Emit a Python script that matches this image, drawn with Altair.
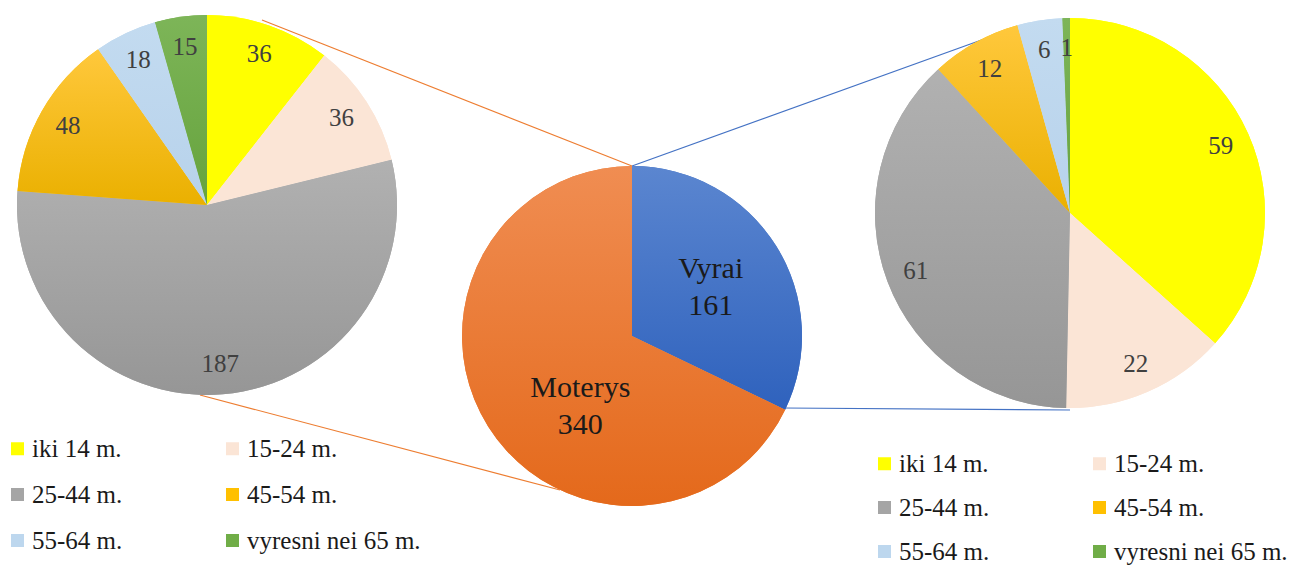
import altair as alt
import pandas as pd

categories = ["iki 14 m.", "15-24 m.", "25-44 m.", "45-54 m.", "55-64 m.", "vyresni nei 65 m."]
women = [36, 36, 187, 48, 18, 15]
men = [59, 22, 61, 12, 6, 1]
genders = ["Vyrai", "Moterys"]
gender_totals = [161, 340]

cat_colors = ["#FFFF00", "#FBE5D6", "#A5A5A5", "#FFC000", "#BDD7EE", "#70AD47"]
cat_top = ["#FFFF00", "#FBE5D6", "#B1B1B1", "#FFC83C", "#C3DBF0", "#7DB558"]
cat_bottom = ["#FFFF00", "#FBE5D6", "#969696", "#EAB000", "#B7D2EB", "#66A33D"]
gender_colors = ["#4472C4", "#ED7D31"]
gender_top = ["#5B86D0", "#F08D52"]
gender_bottom = ["#2F62BD", "#E4691B"]

FONT = "Liberation Serif"

df_w = pd.DataFrame({"cat": categories, "value": women, "idx": range(len(categories))})
df_m = pd.DataFrame({"cat": categories, "value": men, "idx": range(len(categories))})
df_g = pd.DataFrame({"gender": genders, "value": gender_totals, "idx": range(len(genders)),
                     "label": [f"{g}\n{v}" for g, v in zip(genders, gender_totals)]})


def gradient(top, bottom):
    return {
        "gradient": "linear", "x1": 0, "y1": 0, "x2": 0, "y2": 1,
        "stops": [
            {"offset": 0, "color": top},
            {"offset": 1, "color": bottom},
        ],
    }


def cum(chart):
    return chart.transform_window(
        cum="sum(value)", sort=[alt.SortField("idx")]
    ).transform_calculate(
        start="datum.cum - datum.value", mid="datum.cum - datum.value / 2"
    )


def outer_pie(df, cx, cy, r, lr, legend_x, legend_y, row_pad):
    color = alt.Color(
        "cat:N",
        scale=alt.Scale(domain=categories, range=cat_colors),
        sort=categories,
        legend=alt.Legend(
            title=None, orient="none", legendX=legend_x, legendY=legend_y,
            direction="horizontal",
            columns=2, columnPadding=97, rowPadding=row_pad, symbolType="square",
            symbolSize=169, symbolStrokeWidth=0, symbolOpacity=1, labelFont=FONT,
            labelFontSize=25, labelColor="#1a1a1a", labelOffset=2, padding=0,
            labelLimit=300,
        ),
    )
    base = alt.Chart(df)
    arc = base.mark_arc(radius=r).encode(
        theta=alt.Theta("value:Q", stack=True),
        color=color,
        order=alt.Order("idx:Q"),
        x=alt.value(cx), y=alt.value(cy),
    )
    layers = [arc]
    for c, t, b in zip(categories, cat_top, cat_bottom):
        layers.append(
            cum(base).transform_filter(alt.datum.cat == c).mark_arc(
                radius=r, fill=gradient(t, b)
            ).encode(
                theta=alt.Theta("start:Q", stack=False),
                theta2="cum:Q",
                x=alt.value(cx), y=alt.value(cy),
            )
        )
    txt = cum(base).mark_text(radius=lr, font=FONT, fontSize=25, color="#404040").encode(
        theta=alt.Theta("mid:Q", stack=False),
        text="value:Q",
        x=alt.value(cx), y=alt.value(cy),
    )
    layers.append(txt)
    return alt.layer(*layers)


left = outer_pie(df_w, 199, 197, 190, 160, -3, 428, 20)
right = outer_pie(df_m, 1062, 205, 195, 165, 864, 443, 18)

mcx, mcy, mr = 624, 328, 170
mbase = alt.Chart(df_g)
marc = mbase.mark_arc(radius=mr).encode(
    theta=alt.Theta("value:Q", stack=True),
    color=alt.Color("gender:N", scale=alt.Scale(domain=genders, range=gender_colors), legend=None),
    order=alt.Order("idx:Q"),
    x=alt.value(mcx), y=alt.value(mcy),
)
mid_layers = [marc]
for g, t, b in zip(genders, gender_top, gender_bottom):
    mid_layers.append(
        cum(mbase).transform_filter(alt.datum.gender == g).mark_arc(
            radius=mr, fill=gradient(t, b)
        ).encode(
            theta=alt.Theta("start:Q", stack=False),
            theta2="cum:Q",
            x=alt.value(mcx), y=alt.value(mcy),
        )
    )


def mid_text(name, rad, dx, dy):
    return cum(mbase).transform_filter(alt.datum.gender == name).mark_text(
        radius=rad, font=FONT, fontSize=30, color="#1a1a1a",
        lineBreak="\n", lineHeight=37, dx=dx, dy=dy
    ).encode(
        theta=alt.Theta("mid:Q", stack=False),
        text="label:N",
        x=alt.value(mcx), y=alt.value(mcy),
    )


mid_layers += [mid_text("Vyrai", 93, 0, -18), mid_text("Moterys", 87, 22, 6)]
mid = alt.layer(*mid_layers)

lines_df = pd.DataFrame({"k": [0]})


def conn(x1, y1, x2, y2, c):
    return alt.Chart(lines_df).mark_rule(color=c, strokeWidth=1.2).encode(
        x=alt.value(x1), y=alt.value(y1), x2=alt.value(x2), y2=alt.value(y2))


lines = alt.layer(
    conn(254, 12, 624, 158, "#ED7D31"),
    conn(192, 387, 552, 482, "#ED7D31"),
    conn(624, 158, 1004, 21, "#4472C4"),
    conn(775, 400, 1062, 402, "#4472C4"),
)

chart = alt.layer(lines, left, right, mid).resolve_scale(
    theta="independent", color="independent"
).properties(
    width=1281, height=557, padding=0, autosize="none"
).configure_view(stroke=None)

chart.save("out.html", embed_options={"renderer": "svg", "actions": False})
